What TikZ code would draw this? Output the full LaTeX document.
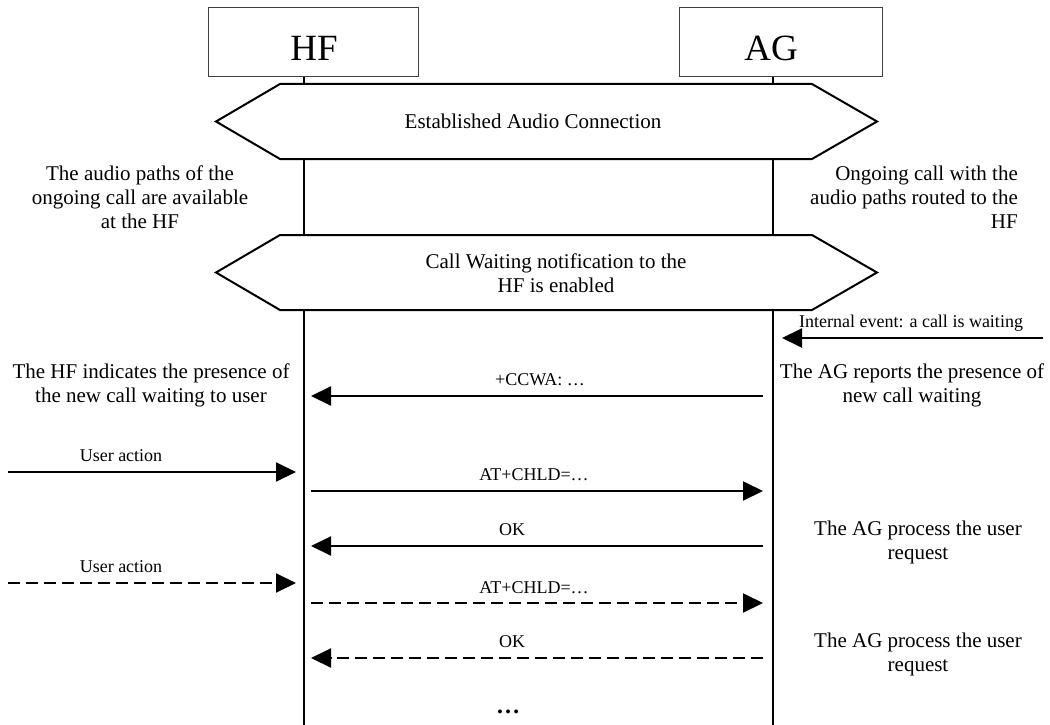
\documentclass[tikz,border=0pt]{standalone}
\usepackage{fontspec}
\setmainfont{Liberation Serif}
\usetikzlibrary{arrows.meta}
\begin{document}
\begin{tikzpicture}[x=1pt,y=-1pt,
  entity/.style={draw=black!75, line width=1pt, minimum height=69pt, inner sep=0pt},
  big/.style={font=\fontsize{37}{40}\selectfont, inner sep=0pt},
  txt/.style={font=\fontsize{21}{24}\selectfont, align=center, inner sep=0pt},
  lbl/.style={font=\fontsize{18}{21}\selectfont, inner sep=0pt},
  life/.style={line width=2pt},
  phase/.style={line width=2pt, fill=white, line join=miter},
  msg/.style={line width=2pt, -{Triangle[length=20pt,width=19pt]}},
  dmsg/.style={msg, dash pattern=on 12pt off 6pt}
]
\useasboundingbox (0,0) rectangle (1050,725);

% entities
\node[entity, minimum width=210pt] (hfbox) at (313,42.5) {};
\node[entity, minimum width=203pt] (agbox) at (780.5,42.5) {};
\node[big] (hflabel) at (314,48) {HF};
\node[big] (aglabel) at (771,48) {AG};

% lifelines
\coordinate (hftop) at (304,77);
\coordinate (hfbot) at (304,725);
\coordinate (agtop) at (773,77);
\coordinate (agbot) at (773,725);
\draw[life] (hftop) -- (hfbot);
\draw[life] (agtop) -- (agbot);

% phase bars
\coordinate (pa1) at (216,121.5);
\coordinate (pa2) at (280,84);
\coordinate (pa3) at (812,84);
\coordinate (pa4) at (877,121.5);
\coordinate (pa5) at (812,159);
\coordinate (pa6) at (280,159);
\draw[phase] (pa1) -- (pa2) -- (pa3) -- (pa4) -- (pa5) -- (pa6) -- cycle;
\node[txt] (established) at (533,121.5) {Established Audio Connection};

\coordinate (pb1) at (216,272.5);
\coordinate (pb2) at (280,235);
\coordinate (pb3) at (812,235);
\coordinate (pb4) at (877,272.5);
\coordinate (pb5) at (812,310);
\coordinate (pb6) at (280,310);
\draw[phase] (pb1) -- (pb2) -- (pb3) -- (pb4) -- (pb5) -- (pb6) -- cycle;
\node[txt] (cwenabled) at (556,273) {Call Waiting notification to the\\HF is enabled};

% state notes
\node[txt] (hfaudio) at (140,197) {The audio paths of the\\ongoing call are available\\at the HF};
\node[txt, align=right, anchor=east] (agaudio) at (1018,197) {Ongoing call with the\\audio paths routed to the\\HF};

% internal event
\coordinate (evsrc) at (1043,338);
\coordinate (evdst) at (782,338);
\draw[msg] (evsrc) -- (evdst);
\node[lbl] (evlabel) at (911,323) {Internal event: a call is waiting};

% +CCWA
\coordinate (ccwasrc) at (763,396);
\coordinate (ccwadst) at (311,396);
\draw[msg] (ccwasrc) -- (ccwadst);
\node[lbl] (ccwalabel) at (540,380) {+CCWA: …};
\node[txt] (hfnotify) at (151,385.5) {The HF indicates the presence of\\the new call waiting to user};
\node[txt] (agnotify) at (912,385.5) {The AG reports the presence of\\new call waiting};

% first user action
\coordinate (ua1src) at (8,472);
\coordinate (ua1dst) at (296,472);
\draw[msg] (ua1src) -- (ua1dst);
\node[lbl] (ua1label) at (121,456) {User action};

\coordinate (chld1src) at (311,491);
\coordinate (chld1dst) at (763,491);
\draw[msg] (chld1src) -- (chld1dst);
\node[lbl] (chld1label) at (534,475) {AT+CHLD=…};

\coordinate (ok1src) at (763,546);
\coordinate (ok1dst) at (311,546);
\draw[msg] (ok1src) -- (ok1dst);
\node[lbl] (ok1label) at (512,530) {OK};
\node[txt] (agproc1) at (918,542.5) {The AG process the user\\request};

% further user actions (dashed)
\coordinate (ua2src) at (8,583);
\coordinate (ua2dst) at (296,583);
\draw[dmsg] (ua2src) -- (ua2dst);
\node[lbl] (ua2label) at (121,567) {User action};

\coordinate (chld2src) at (311,603);
\coordinate (chld2dst) at (763,603);
\draw[dmsg] (chld2src) -- (chld2dst);
\node[lbl] (chld2label) at (534,588) {AT+CHLD=…};

\coordinate (ok2src) at (763,658);
\coordinate (ok2dst) at (311,658);
\draw[dmsg] (ok2src) -- (ok2dst);
\node[lbl] (ok2label) at (512,642) {OK};
\node[txt] (agproc2) at (918,654.5) {The AG process the user\\request};

\node[font=\fontsize{24}{26}\bfseries, inner sep=0pt] (more) at (508,712) {…};
\end{tikzpicture}
\end{document}
